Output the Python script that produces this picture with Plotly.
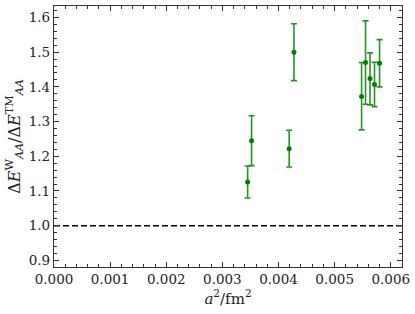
import plotly.graph_objects as go

# lattice spacing squared (fm^2) and ratio of energy differences
a2 = [0.00345, 0.00352, 0.00419, 0.004275, 0.00548, 0.00555, 0.00563, 0.00571, 0.00580]
ratio = [1.126, 1.245, 1.222, 1.500, 1.372, 1.470, 1.424, 1.407, 1.468]
err_up = [0.046, 0.072, 0.053, 0.082, 0.098, 0.120, 0.074, 0.064, 0.068]
err_down = [0.046, 0.072, 0.053, 0.082, 0.096, 0.120, 0.076, 0.064, 0.068]

ref_level = 1.0
x_ticks = [0.000, 0.001, 0.002, 0.003, 0.004, 0.005, 0.006]
y_ticks = [0.9, 1.0, 1.1, 1.2, 1.3, 1.4, 1.5, 1.6]

green = "#008000"
font_family = "DejaVu Serif"

fig = go.Figure()

# reference line at ratio = 1
fig.add_trace(go.Scatter(x=[0, 0.0062], y=[ref_level, ref_level], mode="lines",
                         line=dict(color="black", width=1.5, dash="6px,3px"),
                         showlegend=False, hoverinfo="skip"))

fig.add_trace(go.Scatter(x=a2, y=ratio, mode="markers",
                         marker=dict(color=green, size=5),
                         error_y=dict(type="data", symmetric=False,
                                      array=err_up, arrayminus=err_down,
                                      color="rgba(0,128,0,0.85)", thickness=1.6, width=3),
                         showlegend=False))

axis_common = dict(showline=True, linecolor="#333", linewidth=1.2, mirror="allticks",
                   ticks="inside", ticklen=5, tickwidth=1, tickcolor="#333",
                   showgrid=False, zeroline=False, automargin=False,
                   tickfont=dict(family=font_family, size=13.5, color="#222"))

fig.update_xaxes(range=[0, 0.0062], tickvals=x_ticks,
                 ticktext=[f"{v:.3f}" for v in x_ticks],
                 minor=dict(ticks="inside", ticklen=2.5, dtick=0.0002, tickcolor="#333"),
                 title=dict(text="<i>a</i><sup>2</sup>/fm<sup>2</sup>", standoff=5,
                            font=dict(family=font_family, size=15, color="#222")),
                 **axis_common)
fig.update_yaxes(range=[0.881, 1.633], tickvals=y_ticks,
                 ticktext=[f"{v:.1f}" for v in y_ticks],
                 minor=dict(ticks="inside", ticklen=2.5, dtick=0.02, tickcolor="#333"),
                 title=dict(text="Δ<i>E</i><sup>W</sup><sub><i>AA</i></sub>/Δ<i>E</i><sup>TM</sup><sub><i>AA</i></sub>",
                            standoff=4, font=dict(family=font_family, size=16, color="#222")),
                 **axis_common)

fig.update_layout(width=415, height=314,
                  margin=dict(l=54, r=13, t=6, b=47),
                  plot_bgcolor="white", paper_bgcolor="white")

# drop the default page margin so the figure sits at the window's corner
fig.write_html("out.html", config={"displayModeBar": False},
               post_script="document.body.style.margin='0';")
